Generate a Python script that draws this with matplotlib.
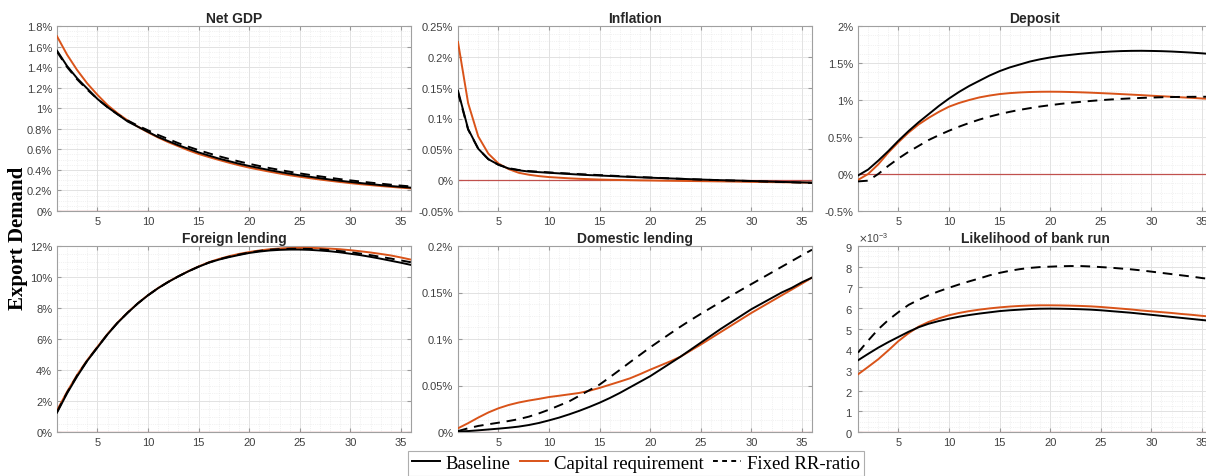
import matplotlib
matplotlib.use("Agg")
import matplotlib.pyplot as plt
from matplotlib.ticker import FuncFormatter, MultipleLocator, AutoMinorLocator, ScalarFormatter
from matplotlib.lines import Line2D

plt.rcParams['font.family'] = ['Liberation Sans', 'DejaVu Sans']

# quarters after the shock
t = list(range(1, 37))

# Net GDP (%)
gdp_base = [1.56, 1.41, 1.29, 1.19, 1.09, 1.01, 0.94, 0.87, 0.82, 0.77, 0.72, 0.68,
            0.64, 0.605, 0.57, 0.54, 0.51, 0.485, 0.46, 0.438, 0.418, 0.398, 0.38, 0.363,
            0.347, 0.333, 0.319, 0.306, 0.294, 0.283, 0.272, 0.262, 0.252, 0.243, 0.235, 0.227]
gdp_cap = [1.70, 1.52, 1.37, 1.24, 1.13, 1.03, 0.95, 0.88, 0.82, 0.765, 0.715, 0.67,
           0.63, 0.59, 0.555, 0.525, 0.497, 0.47, 0.445, 0.422, 0.402, 0.383, 0.365, 0.348,
           0.333, 0.319, 0.306, 0.294, 0.282, 0.271, 0.261, 0.252, 0.243, 0.235, 0.227, 0.22]
gdp_fix = [1.55, 1.40, 1.28, 1.18, 1.09, 1.01, 0.94, 0.88, 0.83, 0.785, 0.74, 0.70,
           0.66, 0.625, 0.592, 0.562, 0.533, 0.507, 0.482, 0.459, 0.438, 0.418, 0.40, 0.382,
           0.366, 0.351, 0.337, 0.323, 0.31, 0.298, 0.287, 0.276, 0.266, 0.256, 0.247, 0.239]

# Inflation (%)
inf_base = [0.145, 0.083, 0.051, 0.034, 0.025, 0.019, 0.016, 0.014, 0.013, 0.012, 0.011, 0.010,
            0.009, 0.0082, 0.0075, 0.0068, 0.006, 0.0053, 0.0046, 0.004, 0.0034, 0.0028, 0.0022, 0.0016,
            0.001, 0.0005, 0.0, -0.0004, -0.0008, -0.0013, -0.0018, -0.0023, -0.0028, -0.0032, -0.0036, -0.004]
inf_cap = [0.224, 0.125, 0.071, 0.043, 0.027, 0.018, 0.012, 0.0088, 0.0066, 0.005, 0.004, 0.003,
           0.0022, 0.0016, 0.001, 0.0006, 0.0003, 0.0, -0.0003, -0.0005, -0.0008, -0.001, -0.0012, -0.0014,
           -0.0016, -0.0018, -0.002, -0.0022, -0.0025, -0.0028, -0.003, -0.0032, -0.0034, -0.0036, -0.0038, -0.004]
inf_fix = [0.142, 0.082, 0.051, 0.034, 0.025, 0.0195, 0.0165, 0.0148, 0.0136, 0.0126, 0.0116, 0.0107,
           0.0098, 0.009, 0.0082, 0.0074, 0.0066, 0.0058, 0.005, 0.0043, 0.0036, 0.0029, 0.0022, 0.0016,
           0.001, 0.0004, -0.0001, -0.0006, -0.001, -0.0015, -0.002, -0.0025, -0.003, -0.0035, -0.004, -0.0045]

# Deposit (%)
dep_base = [-0.02, 0.06, 0.18, 0.31, 0.45, 0.58, 0.70, 0.81, 0.92, 1.02, 1.11, 1.19,
            1.26, 1.33, 1.39, 1.44, 1.48, 1.52, 1.55, 1.575, 1.595, 1.61, 1.625, 1.637,
            1.647, 1.655, 1.661, 1.664, 1.665, 1.663, 1.66, 1.655, 1.648, 1.64, 1.631, 1.62]
dep_cap = [-0.08, 0.0, 0.13, 0.29, 0.43, 0.56, 0.67, 0.76, 0.84, 0.91, 0.96, 1.0,
           1.035, 1.06, 1.08, 1.093, 1.102, 1.108, 1.111, 1.112, 1.111, 1.108, 1.104, 1.099,
           1.093, 1.087, 1.08, 1.073, 1.066, 1.058, 1.051, 1.044, 1.036, 1.029, 1.021, 1.013]
dep_fix = [-0.10, -0.09, 0.0, 0.11, 0.21, 0.30, 0.38, 0.46, 0.525, 0.585, 0.64, 0.69,
           0.735, 0.775, 0.81, 0.84, 0.867, 0.89, 0.912, 0.93, 0.947, 0.962, 0.975, 0.987,
           0.998, 1.007, 1.015, 1.022, 1.028, 1.033, 1.037, 1.04, 1.042, 1.043, 1.044, 1.044]

# Foreign lending (%)
for_base = [1.25, 2.5, 3.6, 4.6, 5.45, 6.3, 7.05, 7.7, 8.3, 8.82, 9.28, 9.68,
            10.04, 10.37, 10.66, 10.92, 11.12, 11.28, 11.42, 11.55, 11.64, 11.71, 11.75, 11.77,
            11.77, 11.75, 11.71, 11.66, 11.59, 11.5, 11.41, 11.3, 11.18, 11.05, 10.92, 10.78]
for_cap = [1.4, 2.6, 3.7, 4.65, 5.5, 6.33, 7.07, 7.72, 8.31, 8.83, 9.29, 9.69,
           10.05, 10.38, 10.68, 10.95, 11.16, 11.34, 11.49, 11.61, 11.71, 11.79, 11.84, 11.87,
           11.88, 11.88, 11.86, 11.83, 11.79, 11.73, 11.66, 11.58, 11.49, 11.39, 11.26, 11.12]
for_fix = [1.3, 2.55, 3.65, 4.62, 5.47, 6.31, 7.06, 7.71, 8.3, 8.82, 9.28, 9.68,
           10.04, 10.37, 10.67, 10.93, 11.14, 11.31, 11.45, 11.58, 11.68, 11.76, 11.8, 11.82,
           11.82, 11.81, 11.78, 11.73, 11.67, 11.6, 11.51, 11.41, 11.3, 11.19, 11.07, 10.95]

# Domestic lending (%)
dom_base = [0.0005, 0.001, 0.0018, 0.0027, 0.0036, 0.0046, 0.0058, 0.0075, 0.0097, 0.0125, 0.0155, 0.019,
            0.0228, 0.027, 0.0315, 0.0365, 0.042, 0.048, 0.054, 0.060, 0.067, 0.074, 0.081, 0.0885,
            0.096, 0.1035, 0.111, 0.118, 0.125, 0.132, 0.138, 0.144, 0.150, 0.155, 0.161, 0.166]
dom_cap = [0.004, 0.0095, 0.0155, 0.021, 0.0255, 0.029, 0.0317, 0.0338, 0.0356, 0.0376, 0.039, 0.0405,
           0.042, 0.0444, 0.0474, 0.0508, 0.0542, 0.0577, 0.0622, 0.067, 0.0715, 0.076, 0.081, 0.0875,
           0.094, 0.1008, 0.1076, 0.1144, 0.1212, 0.128, 0.1343, 0.1406, 0.1469, 0.1532, 0.1595, 0.166]
dom_fix = [0.001, 0.004, 0.0065, 0.0083, 0.010, 0.0118, 0.0138, 0.0165, 0.02, 0.024, 0.0285, 0.033,
           0.039, 0.045, 0.051, 0.0588, 0.0668, 0.075, 0.083, 0.091, 0.0985, 0.106, 0.1133, 0.1203,
           0.127, 0.1335, 0.14, 0.1465, 0.1528, 0.159, 0.1652, 0.1714, 0.1776, 0.1838, 0.19, 0.196]

# Likelihood of bank run (x 1e-3)
run_base = [3.47, 3.78, 4.08, 4.35, 4.6, 4.85, 5.07, 5.24, 5.37, 5.48, 5.58, 5.66,
            5.73, 5.79, 5.85, 5.89, 5.92, 5.95, 5.965, 5.97, 5.965, 5.955, 5.94, 5.92,
            5.89, 5.85, 5.81, 5.77, 5.72, 5.67, 5.62, 5.57, 5.52, 5.47, 5.42, 5.37]
run_cap = [2.79, 3.15, 3.52, 3.95, 4.4, 4.78, 5.1, 5.33, 5.5, 5.65, 5.76, 5.85,
           5.92, 5.98, 6.03, 6.07, 6.1, 6.12, 6.13, 6.13, 6.125, 6.115, 6.1, 6.08,
           6.05, 6.01, 5.97, 5.93, 5.88, 5.84, 5.8, 5.76, 5.71, 5.67, 5.62, 5.58]
run_fix = [3.84, 4.42, 4.97, 5.42, 5.8, 6.15, 6.4, 6.62, 6.81, 6.98, 7.14, 7.29,
           7.43, 7.58, 7.70, 7.8, 7.88, 7.94, 7.98, 8.0, 8.02, 8.03, 8.03, 8.01,
           7.98, 7.95, 7.91, 7.87, 7.82, 7.76, 7.7, 7.64, 7.58, 7.52, 7.45, 7.39]
run_base = [v * 1e-3 for v in run_base]
run_cap = [v * 1e-3 for v in run_cap]
run_fix = [v * 1e-3 for v in run_fix]

panels = [
    ("Net GDP", gdp_base, gdp_cap, gdp_fix, (0, 1.8), 0.2, True),
    ("Inflation", inf_base, inf_cap, inf_fix, (-0.05, 0.25), 0.05, True),
    ("Deposit", dep_base, dep_cap, dep_fix, (-0.5, 2.0), 0.5, True),
    ("Foreign lending", for_base, for_cap, for_fix, (0, 12), 2, True),
    ("Domestic lending", dom_base, dom_cap, dom_fix, (0, 0.2), 0.05, True),
    ("Likelihood of bank run", run_base, run_cap, run_fix, (0, 9e-3), 1e-3, False),
]

orange = '#D95319'
zero_red = '#C0504D'

W, H = 1206, 477
fig = plt.figure(figsize=(W / 100, H / 100), dpi=100)

lefts = [57, 458, 858]
axw = 354
rows = [(27, 212), (247, 433)]

for i, (title, base, cap, fix, ylim, step, pct) in enumerate(panels):
    r, c = divmod(i, 3)
    top, bot = rows[r]
    ax = fig.add_axes([lefts[c] / W, 1 - bot / H, axw / W, (bot - top) / H])
    ax.plot(t, base, color='black', lw=1.4, zorder=4)
    ax.plot(t, cap, color=orange, lw=1.4, zorder=3)
    ax.plot(t, fix, color='black', lw=1.4, ls=(0, (5, 3.5)), zorder=5)
    ax.axhline(0, color=zero_red, lw=0.9, zorder=2)
    ax.set_xlim(1, 36)
    ax.set_ylim(*ylim)
    ax.xaxis.set_major_locator(MultipleLocator(5))
    ax.xaxis.set_minor_locator(MultipleLocator(1))
    ax.yaxis.set_major_locator(MultipleLocator(step))
    ax.yaxis.set_minor_locator(AutoMinorLocator(4))
    if pct:
        ax.yaxis.set_major_formatter(FuncFormatter(lambda v, p: '%g%%' % round(v, 4)))
    else:
        fmt = ScalarFormatter(useMathText=True)
        fmt.set_powerlimits((-2, 2))
        ax.yaxis.set_major_formatter(fmt)
        ax.yaxis.get_offset_text().set_fontsize(7.5)
        ax.yaxis.get_offset_text().set_color('#404040')
    ax.grid(which='major', color='#e2e2e2', lw=0.7)
    ax.grid(which='minor', color='#e6e6e6', lw=0.5, ls=':')
    ax.set_axisbelow(True)
    ax.tick_params(which='both', direction='in', top=True, right=True,
                   colors='#9a9a9a', labelcolor='#404040', labelsize=8)
    ax.tick_params(which='major', length=3)
    ax.tick_params(which='minor', length=0)
    for s in ax.spines.values():
        s.set_color('#a0a0a0')
        s.set_linewidth(0.8)
    ax.set_title(title, fontsize=10, fontweight='bold', color='#262626', pad=3)

fig.text(18 / W, 0.5, 'Export Demand', rotation=90, ha='center', va='center',
         fontsize=15, fontweight='bold', family='Liberation Serif')

handles = [Line2D([], [], color='black', lw=1.4),
           Line2D([], [], color=orange, lw=1.4),
           Line2D([], [], color='black', lw=1.4, ls=(0, (2.5, 2.2)))]
leg = fig.legend(handles, ['Baseline', 'Capital requirement', 'Fixed RR-ratio'],
                 loc='upper center', bbox_to_anchor=(636 / W, 1 - 452 / H), ncol=3,
                 prop={'family': 'Liberation Serif', 'size': 13.5}, frameon=True,
                 fancybox=False, edgecolor='#9a9a9a', handlelength=1.5,
                 handletextpad=0.3, columnspacing=0.5, borderpad=0.2, borderaxespad=0)
leg.get_frame().set_linewidth(0.8)

fig.savefig('out.png', dpi=100)
